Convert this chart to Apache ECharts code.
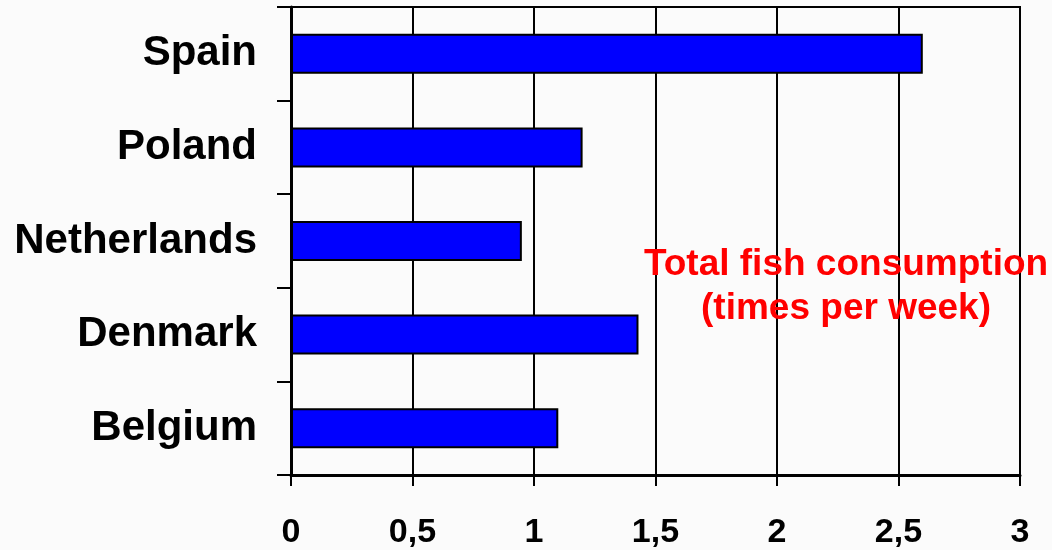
<!DOCTYPE html>
<html>
<head>
<meta charset="utf-8">
<script src="https://cdn.jsdelivr.net/npm/echarts@6/dist/echarts.min.js"></script>
<style>
  html, body { margin: 0; padding: 0; background: #fbfbfb; }
  #chart { width: 1052px; height: 550px; }
</style>
</head>
<body>
<div id="chart"></div>
<script>
// Countries, listed top to bottom
const countries = ['Spain', 'Poland', 'Netherlands', 'Denmark', 'Belgium'];
// Total fish consumption, times per week
const consumption = [2.6, 1.2, 0.95, 1.43, 1.1];
// Value axis ticks
const xTicks = [0, 0.5, 1, 1.5, 2, 2.5, 3];

const FONT = 'Arial, "Liberation Sans", Helvetica, sans-serif';

const chart = echarts.init(document.getElementById('chart'), null, { renderer: 'canvas' });
chart.setOption({
  backgroundColor: '#fbfbfb',
  animation: false,
  grid: {
    left: 291, right: 32, top: 7, bottom: 75,
    show: true, borderColor: '#000', borderWidth: 2, backgroundColor: 'transparent'
  },
  xAxis: {
    type: 'value',
    min: xTicks[0],
    max: xTicks[xTicks.length - 1],
    interval: 0.5,
    axisLine: { show: true, lineStyle: { color: '#000', width: 3 } },
    axisTick: { show: true, length: 11, lineStyle: { color: '#000', width: 2 } },
    splitLine: { show: true, lineStyle: { color: '#000', width: 2 } },
    axisLabel: {
      margin: 41,
      color: '#000',
      fontFamily: FONT,
      fontWeight: 'bold',
      fontSize: 34,
      formatter: v => String(v).replace('.', ',')
    }
  },
  yAxis: {
    type: 'category',
    data: countries,
    inverse: true,
    axisLine: { show: true, lineStyle: { color: '#000', width: 3 } },
    axisTick: { show: true, length: 14, lineStyle: { color: '#000', width: 2 } },
    splitLine: { show: false },
    axisLabel: {
      margin: 34,
      color: '#000',
      fontFamily: FONT,
      fontWeight: 'bold',
      fontSize: 42
    }
  },
  series: [{
    type: 'bar',
    data: consumption,
    barWidth: 40,
    itemStyle: { color: '#0000ff', borderColor: '#000', borderWidth: 2 }
  }],
  graphic: [{
    type: 'text',
    x: 846, y: 287,
    style: {
      text: 'Total fish consumption\n(times per week)',
      x: 0, y: 0,
      fill: '#ff0000',
      font: 'bold 37px ' + FONT,
      lineHeight: 44,
      textAlign: 'center',
      textVerticalAlign: 'middle'
    },
    z: 100
  }]
});
</script>
</body>
</html>
